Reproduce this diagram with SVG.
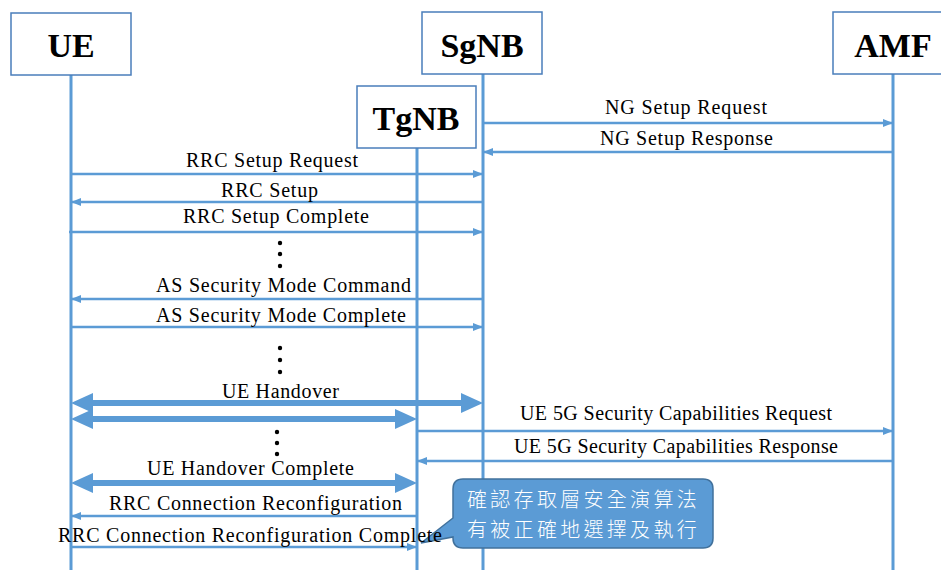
<svg xmlns="http://www.w3.org/2000/svg" width="941" height="570" viewBox="0 0 941 570">
<style>
.box{fill:#fff;stroke:#4A7EBB;stroke-width:1.5}
.hdr{font-family:"Liberation Serif","Times New Roman",serif;font-weight:bold;font-size:34px;fill:#000;text-anchor:middle}
.life{stroke:#5B9BD5;stroke-width:3;fill:none}
.msg{stroke:#5B9BD5;stroke-width:2.5;fill:none}
.thick{stroke:#5B9BD5;stroke-width:6;fill:none}
.head{fill:#5B9BD5}
.lbl{font-family:"Liberation Serif","Times New Roman",serif;font-size:20px;fill:#000}
.dot{fill:#000}
.cjk{font-family:"Noto Sans CJK TC","Noto Sans CJK SC",sans-serif;font-size:20px;fill:#fff;font-weight:300;letter-spacing:3.3px}
</style>
<defs>
<marker id="ah" markerWidth="10" markerHeight="8" refX="9" refY="4" orient="auto" markerUnits="userSpaceOnUse">
<path d="M0,0 L10,4 L0,8 Z" fill="#5B9BD5"/>
</marker>
</defs>
<rect width="941" height="570" fill="#fff"/>
<g id="lifelines">
<line class="life" x1="71" y1="75" x2="71" y2="570"/>
<line class="life" x1="483" y1="74" x2="483" y2="570"/>
<line class="life" x1="417" y1="148" x2="417" y2="570"/>
<line class="life" x1="893" y1="74" x2="893" y2="570"/>
</g>
<g id="UE"><rect class="box" x="11" y="13" width="120" height="62"/><text class="hdr" x="71" y="57">UE</text></g>
<g id="SgNB"><rect class="box" x="422" y="12" width="120" height="62"/><text class="hdr" x="482" y="57">SgNB</text></g>
<g id="TgNB"><rect class="box" x="357" y="86" width="119" height="62"/><text class="hdr" x="416" y="130">TgNB</text></g>
<g id="AMF"><rect class="box" x="833" y="12" width="120" height="62"/><text class="hdr" x="893" y="57">AMF</text></g>
<g id="connectors">
<line class="msg" x1="483" y1="123" x2="892" y2="123" marker-end="url(#ah)"/>
<line class="msg" x1="893" y1="152" x2="484" y2="152" marker-end="url(#ah)"/>
<line class="msg" x1="71" y1="174" x2="482" y2="174" marker-end="url(#ah)"/>
<line class="msg" x1="483" y1="202" x2="72" y2="202" marker-end="url(#ah)"/>
<line class="msg" x1="69" y1="232" x2="482" y2="232" marker-end="url(#ah)"/>
<line class="msg" x1="483" y1="299" x2="72" y2="299" marker-end="url(#ah)"/>
<line class="msg" x1="71" y1="327" x2="482" y2="327" marker-end="url(#ah)"/>
<line class="thick" x1="88" y1="403" x2="466" y2="403"/>
<path class="head" d="M71,403 L93,393 L93,413 Z"/>
<path class="head" d="M483,403 L461,393 L461,413 Z"/>
<line class="thick" x1="88" y1="419" x2="400" y2="419"/>
<path class="head" d="M71,419 L93,409 L93,429 Z"/>
<path class="head" d="M417,419 L395,409 L395,429 Z"/>
<line class="msg" x1="417" y1="431" x2="892" y2="431" marker-end="url(#ah)"/>
<line class="msg" x1="893" y1="461" x2="418" y2="461" marker-end="url(#ah)"/>
<line class="thick" x1="88" y1="483" x2="400" y2="483"/>
<path class="head" d="M71,483 L93,473 L93,493 Z"/>
<path class="head" d="M417,483 L395,473 L395,493 Z"/>
<line class="msg" x1="417" y1="516" x2="72" y2="516" marker-end="url(#ah)"/>
<line class="msg" x1="71" y1="547" x2="416" y2="547" marker-end="url(#ah)"/>
</g>
<g id="callout">
<path d="M463,479 H703 Q713,479 713,489 V538 Q713,548 703,548 H463 Q453,548 453,538 V537 L421,543 L453,518 V489 Q453,479 463,479 Z" fill="#5B9BD5" stroke="#41719C" stroke-width="1.5"/>
<text class="cjk" x="467" y="507">確認存取層安全演算法</text>
<text class="cjk" x="467" y="537">有被正確地選擇及執行</text>
</g>
<g id="labels">
<text class="lbl" x="605" y="114" textLength="162">NG Setup Request</text>
<text class="lbl" x="600" y="145" textLength="173">NG Setup Response</text>
<text class="lbl" x="186" y="167" textLength="172">RRC Setup Request</text>
<text class="lbl" x="221" y="197" textLength="97">RRC Setup</text>
<text class="lbl" x="183" y="223" textLength="186">RRC Setup Complete</text>
<text class="lbl" x="156" y="292" textLength="255">AS Security Mode Command</text>
<text class="lbl" x="156" y="322" textLength="250">AS Security Mode Complete</text>
<text class="lbl" x="222" y="398" textLength="117">UE Handover</text>
<text class="lbl" x="520" y="420" textLength="312">UE 5G Security Capabilities Request</text>
<text class="lbl" x="514" y="453" textLength="324">UE 5G Security Capabilities Response</text>
<text class="lbl" x="147" y="475" textLength="207">UE Handover Complete</text>
<text class="lbl" x="109" y="510" textLength="293">RRC Connection Reconfiguration</text>
<text class="lbl" x="58" y="542" textLength="384">RRC Connection Reconfiguration Complete</text>
</g>
<g id="dots">
<circle class="dot" cx="280" cy="243" r="2.2"/><circle class="dot" cx="280" cy="254" r="2.2"/><circle class="dot" cx="280" cy="266" r="2.2"/>
<circle class="dot" cx="280" cy="348" r="2.2"/><circle class="dot" cx="280" cy="360" r="2.2"/><circle class="dot" cx="280" cy="372" r="2.2"/>
<circle class="dot" cx="277" cy="432" r="2.2"/><circle class="dot" cx="277" cy="443" r="2.2"/><circle class="dot" cx="277" cy="454" r="2.2"/>
</g>
</svg>
